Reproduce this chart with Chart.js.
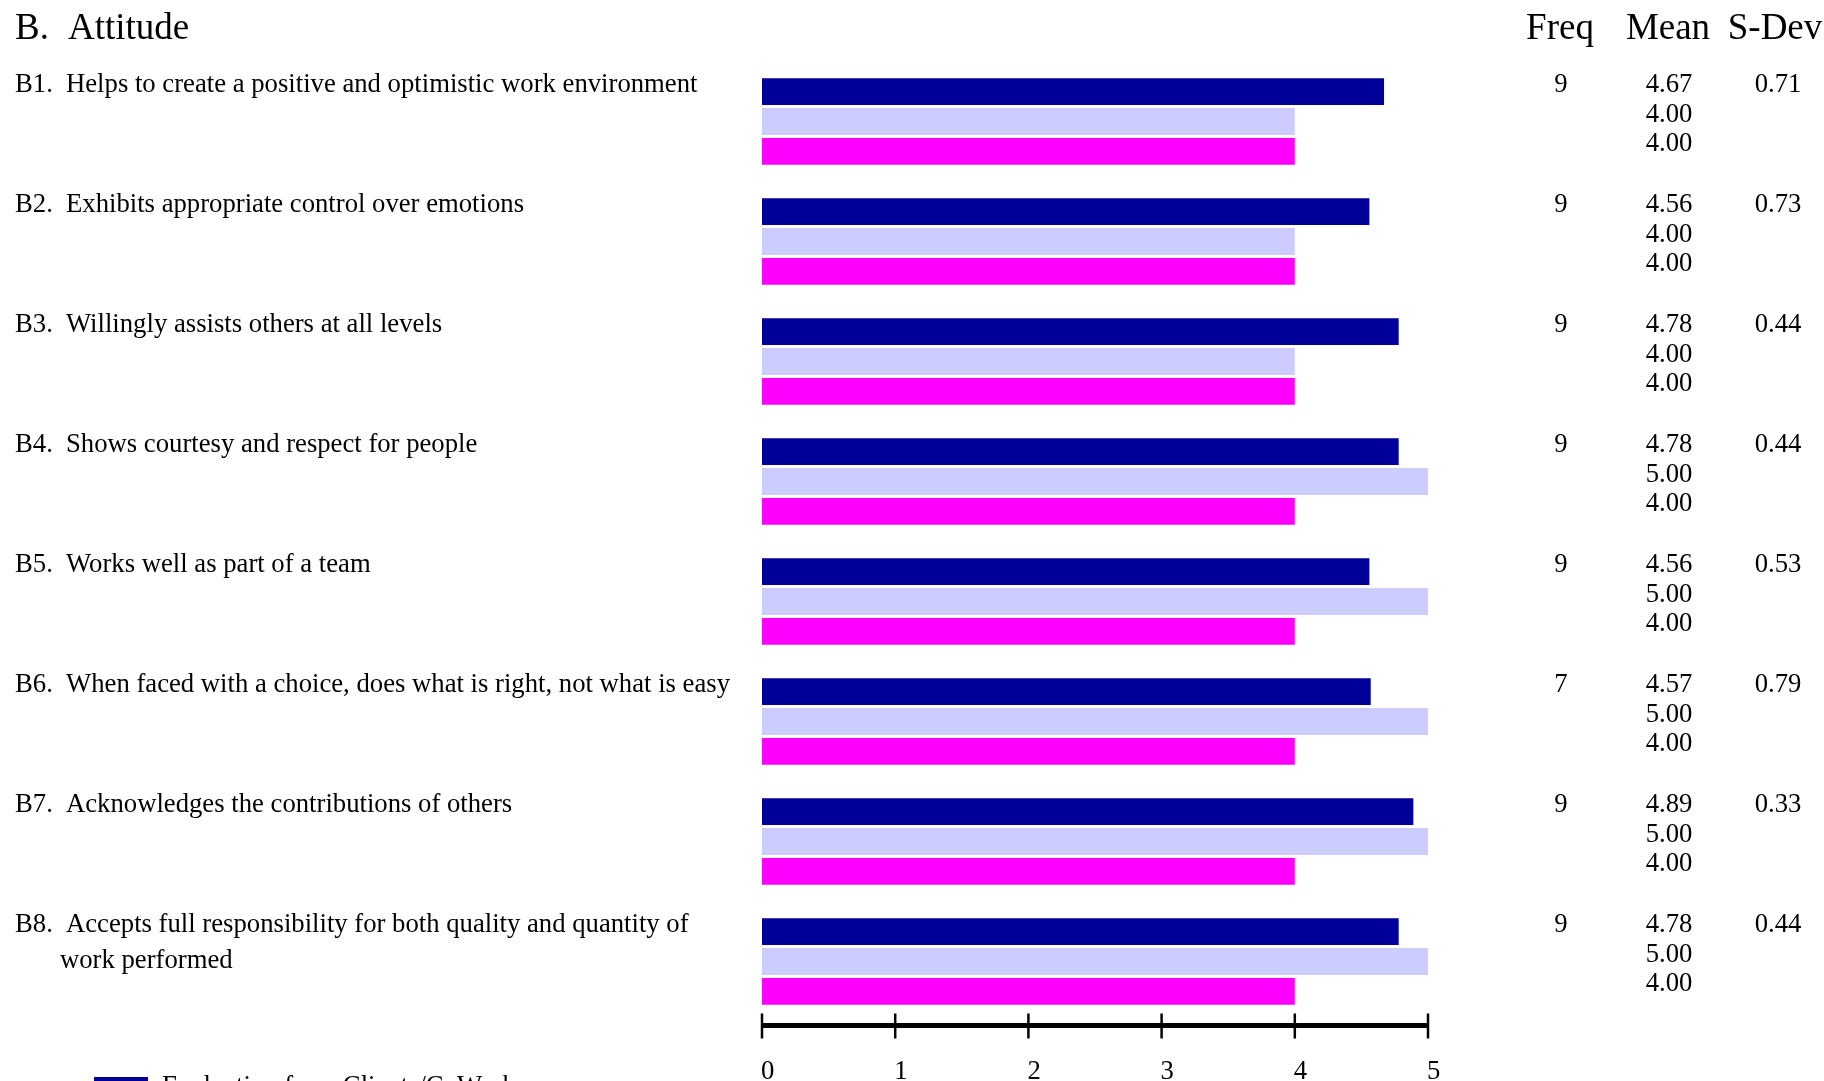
<!DOCTYPE html>
<html>
<head>
<meta charset="utf-8">
<title>B. Attitude</title>
<script src="https://cdn.jsdelivr.net/npm/chart.js@4/dist/chart.umd.min.js"></script>
<style>
    html, body { margin: 0; padding: 0; background: #fff; }
    #wrap { width: 1824px; height: 1081px; position: relative; }
</style>
</head>
<body>
<div id="wrap"><canvas id="attitude-chart" width="1824" height="1081"></canvas></div>
<script>
// Item codes and wording
const itemCodes = ['B1.', 'B2.', 'B3.', 'B4.', 'B5.', 'B6.', 'B7.', 'B8.'];
const itemLabels = [
    ['Helps to create a positive and optimistic work environment'],
    ['Exhibits appropriate control over emotions'],
    ['Willingly assists others at all levels'],
    ['Shows courtesy and respect for people'],
    ['Works well as part of a team'],
    ['When faced with a choice, does what is right, not what is easy'],
    ['Acknowledges the contributions of others'],
    ['Accepts full responsibility for both quality and quantity of', 'work performed']
];

// Series (means)
const clientsMeans = [4.67, 4.56, 4.78, 4.78, 4.56, 4.57, 4.89, 4.78];
const selfMeans = [4.00, 4.00, 4.00, 5.00, 5.00, 5.00, 5.00, 5.00];
const supervisorMeans = [4.00, 4.00, 4.00, 4.00, 4.00, 4.00, 4.00, 4.00];

// Stats for the clients/coworkers series
const freqs = [9, 9, 9, 9, 9, 7, 9, 9];
const stdDevs = [0.71, 0.73, 0.44, 0.44, 0.53, 0.79, 0.33, 0.44];

// Axis
const xTicks = [0, 1, 2, 3, 4, 5];

const seriesNames = ['Evaluation from Clients/CoWorkers', 'Self Evaluation', 'Evaluation from Supervisor'];
const seriesColors = ['#000099', '#ccccff', '#ff00ff'];

const serif = '"Liberation Serif", "DejaVu Serif", serif';

// Draws item text, stats columns, axis and legend around the bars
const sidePanels = {
    id: 'sidePanels',
    afterDraw: function(chart) {
        const ctx = chart.ctx;
        const xs = chart.scales.x;
        const area = chart.chartArea;
        const metas = [0, 1, 2].map(function(d) { return chart.getDatasetMeta(d); });
        const lift = 7;

        ctx.save();
        ctx.fillStyle = '#000';

        // Title and column headers
        ctx.font = '37px ' + serif;
        ctx.textBaseline = 'middle';
        ctx.textAlign = 'left';
        ctx.fillText('B.', 15, 29);
        ctx.fillText('Attitude', 68, 29);
        ctx.textAlign = 'center';
        ctx.fillText('Freq', 1560, 29);
        ctx.fillText('Mean', 1668, 29);
        ctx.fillText('S-Dev', 1775, 29);

        ctx.font = '26.7px ' + serif;
        itemCodes.forEach(function(code, i) {
            const rows = metas.map(function(m) { return m.data[i].y - lift; });

            // Item text
            ctx.textAlign = 'left';
            ctx.fillText(code, 15, rows[0]);
            itemLabels[i].forEach(function(line, k) {
                ctx.fillText(line, k === 0 ? 66 : 60, rows[0] + k * 36);
            });

            // Stats
            ctx.textAlign = 'center';
            ctx.fillText(String(freqs[i]), 1561, rows[0]);
            ctx.fillText(clientsMeans[i].toFixed(2), 1669, rows[0]);
            ctx.fillText(selfMeans[i].toFixed(2), 1669, rows[1]);
            ctx.fillText(supervisorMeans[i].toFixed(2), 1669, rows[2]);
            ctx.fillText(stdDevs[i].toFixed(2), 1778, rows[0]);
        });

        // Axis line with ticks
        const axisY = area.bottom + 4;
        const x0 = xs.getPixelForValue(xTicks[0]);
        const x1 = xs.getPixelForValue(xTicks[xTicks.length - 1]);
        ctx.strokeStyle = '#000';
        ctx.lineWidth = 5;
        ctx.beginPath();
        ctx.moveTo(x0, axisY);
        ctx.lineTo(x1, axisY);
        ctx.stroke();
        ctx.lineWidth = 2.5;
        ctx.textAlign = 'left';
        xTicks.forEach(function(t) {
            const px = xs.getPixelForValue(t);
            ctx.beginPath();
            ctx.moveTo(px, axisY - 12);
            ctx.lineTo(px, axisY + 13);
            ctx.stroke();
            ctx.fillText(String(t), px - 1, 1072);
        });

        // Legend (runs off the bottom of the page)
        seriesNames.forEach(function(name, d) {
            const top = 1077 + d * 36;
            ctx.fillStyle = seriesColors[d];
            ctx.fillRect(94, top, 54, 18);
            ctx.fillStyle = '#000';
            ctx.textAlign = 'left';
            ctx.fillText(name, 162, top + 10);
        });

        ctx.restore();
    }
};

const chartData = {
    labels: itemCodes,
    datasets: [
        { label: seriesNames[0], data: clientsMeans, backgroundColor: seriesColors[0] },
        { label: seriesNames[1], data: selfMeans, backgroundColor: seriesColors[1] },
        { label: seriesNames[2], data: supervisorMeans, backgroundColor: seriesColors[2] }
    ]
};

new Chart(document.getElementById('attitude-chart'), {
    type: 'bar',
    data: chartData,
    plugins: [sidePanels],
    options: {
        indexAxis: 'y',
        responsive: false,
        animation: false,
        categoryPercentage: 0.745,
        barPercentage: 0.9,
        borderWidth: 0,
        layout: {
            padding: { left: 762, right: 396, top: 61.5, bottom: 59.5 }
        },
        plugins: {
            legend: { display: false },
            tooltip: { enabled: false },
            title: { display: false }
        },
        scales: {
            x: { display: false, min: 0, max: 5 },
            y: { display: false }
        }
    }
});
</script>
</body>
</html>
